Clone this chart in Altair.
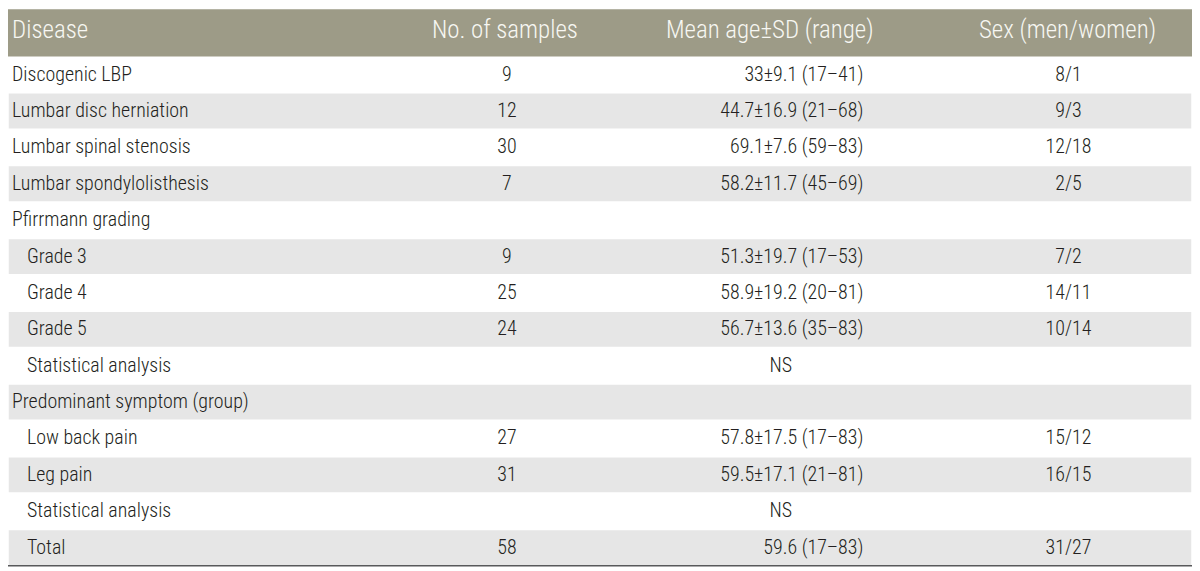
import altair as alt
import pandas as pd

# ---- table content ----
headers = ["Disease", "No. of samples", "Mean age±SD (range)", "Sex (men/women)"]
diseases = ["Discogenic LBP", "Lumbar disc herniation", "Lumbar spinal stenosis",
            "Lumbar spondylolisthesis", "Pfirrmann grading", "Grade 3", "Grade 4",
            "Grade 5", "Statistical analysis", "Predominant symptom (group)",
            "Low back pain", "Leg pain", "Statistical analysis", "Total"]
indent = [0, 0, 0, 0, 0, 1, 1, 1, 1, 0, 1, 1, 1, 1]
samples = ["9", "12", "30", "7", "", "9", "25", "24", "", "", "27", "31", "", "58"]
mean_age = ["33±9.1 (17–41)", "44.7±16.9 (21–68)", "69.1±7.6 (59–83)", "58.2±11.7 (45–69)", "",
            "51.3±19.7 (17–53)", "58.9±19.2 (20–81)", "56.7±13.6 (35–83)", "", "",
            "57.8±17.5 (17–83)", "59.5±17.1 (21–81)", "", "59.6 (17–83)"]
stat_test = ["", "", "", "", "", "", "", "", "NS", "", "", "", "NS", ""]
sex = ["8/1", "9/3", "12/18", "2/5", "", "7/2", "14/11", "10/14", "", "",
       "15/12", "16/15", "", "31/27"]

n = len(diseases)
df = pd.DataFrame({
    "row": list(range(n)),
    "disease": diseases,
    "indent": indent,
    "samples": samples,
    "mean_age": mean_age,
    "stat": stat_test,
    "sex": sex,
})

W, H = 1189, 559
HEAD = 1.3
FONT = "Roboto Condensed, Liberation Sans Narrow, DejaVu Sans Condensed, sans-serif"
TXT = "#231f20"

yscale = alt.Scale(domain=[-HEAD, n], reverse=True, nice=False, zero=False)
Y = lambda f: alt.Y(f, type="quantitative", scale=yscale, axis=None)

base = alt.Chart(df)

# header band
head_rect = alt.Chart(pd.DataFrame({"a": [-HEAD], "b": [0]})).mark_rect(color="#9d9b87").encode(
    x=alt.value(0), x2=alt.value(W), y=Y("a"), y2="b"
)

# striped rows
stripes = base.transform_filter("datum.row % 2 == 1").transform_calculate(
    r2="datum.row + 1"
).mark_rect(color="#e6e6e6", stroke="white", strokeWidth=1.5).encode(
    x=alt.value(0), x2=alt.value(W), y=Y("row"), y2="r2:Q"
)

bottom = alt.Chart(pd.DataFrame({"a": [n]})).mark_rule(color="#58595b", strokeWidth=1.5).encode(
    x=alt.value(0), x2=alt.value(W), y=Y("a")
)

hy = alt.Chart(pd.DataFrame({"y": [-HEAD / 2 - 0.07]}))

def head_text(label, x, align):
    return hy.mark_text(text=label, align=align, baseline="middle", font=FONT, fontSize=25,
                        fontWeight=300, color="#f7f7f2").encode(x=alt.value(x), y=Y("y"))

h1 = head_text(headers[0], 4, "left")
h2 = head_text(headers[1], 499, "center")
h3 = head_text(headers[2], 765, "center")
h4 = head_text(headers[3], 1064, "center")

cell = base.transform_calculate(ym="datum.row + 0.5")

def col_text(field, x, align, flt=None):
    c = cell
    if flt:
        c = c.transform_filter(flt)
    return c.mark_text(align=align, baseline="middle", font=FONT, fontSize=20, fontWeight=300,
                       color=TXT).encode(
        x=alt.value(x), y=Y("ym"), text=f"{field}:N"
    )

t_dis0 = col_text("disease", 4, "left", "datum.indent == 0")
t_dis1 = col_text("disease", 19, "left", "datum.indent == 1")
t_smp = col_text("samples", 501, "center")
t_age = col_text("mean_age", 859, "right")
t_ns = col_text("stat", 776, "center")
t_sex = col_text("sex", 1065, "center")

chart = alt.layer(
    head_rect, stripes, bottom, h1, h2, h3, h4,
    t_dis0, t_dis1, t_smp, t_age, t_ns, t_sex
).properties(
    width=W, height=H, padding=0, autosize="none", background="white"
).configure_view(stroke=None)

chart.save("out.html", embed_options={"renderer": "svg", "actions": False})
